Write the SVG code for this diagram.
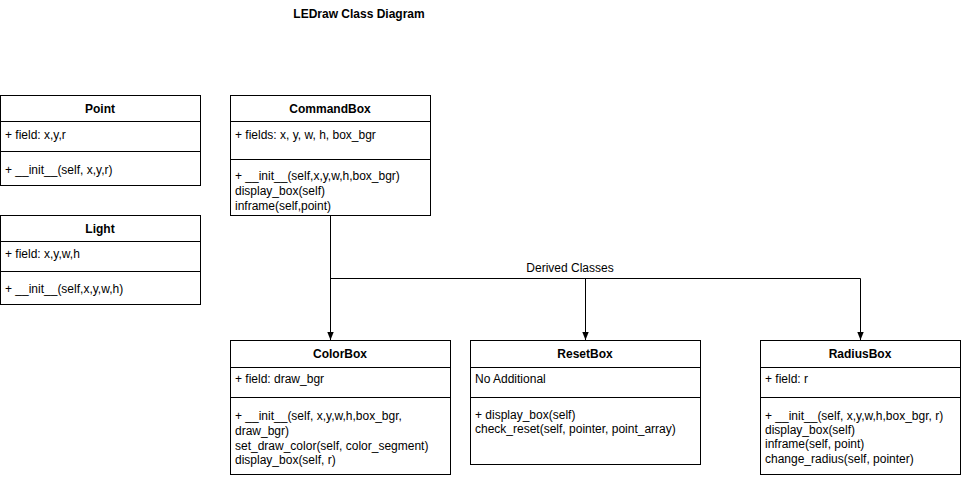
<svg xmlns="http://www.w3.org/2000/svg" width="962" height="479" viewBox="0 0 962 479">
<defs>
<style>
.box{fill:#fff;stroke:#000;stroke-width:1}
.sep{stroke:#000;stroke-width:1;fill:none}
.t{font-family:"Liberation Sans",Arial,Helvetica,sans-serif;font-size:12px;fill:#000}
.h{font-family:"Liberation Sans",Arial,Helvetica,sans-serif;font-size:12px;font-weight:bold;fill:#000;text-anchor:middle}
.c{stroke:#000;stroke-width:1;fill:none}
</style>
<marker id="arr" viewBox="0 0 8 8" refX="8" refY="4" markerWidth="8" markerHeight="8" markerUnits="userSpaceOnUse" orient="auto">
<path d="M0,0.8 L8,4 L0,7.2 Z" fill="#000"/>
</marker>
</defs>
<rect width="962" height="479" fill="#fff"/>
<text x="359" y="18" class="h">LEDraw Class Diagram</text>

<g id="connectors">
<path class="c" d="M330.5,215.5 V340" marker-end="url(#arr)"/>
<path class="c" d="M330.5,278.5 H860.5"/>
<path class="c" d="M585.5,278.5 V340" marker-end="url(#arr)"/>
<path class="c" d="M860.5,278.5 V340" marker-end="url(#arr)"/>
<text x="570" y="272" class="t" text-anchor="middle">Derived Classes</text>
</g>

<g id="Point">
<rect class="box" x="0.5" y="95.5" width="200" height="90"/>
<path class="sep" d="M0.5,121.5 H200.5 M0.5,151.5 H200.5"/>
<text x="100" y="113" class="h">Point</text>
<text x="5" y="139" class="t">+ field: x,y,r</text>
<text x="5" y="174" class="t">+ __init__(self, x,y,r)</text>
</g>

<g id="Light">
<rect class="box" x="0.5" y="215.5" width="200" height="89"/>
<path class="sep" d="M0.5,241.5 H200.5 M0.5,271.5 H200.5"/>
<text x="100" y="233" class="h">Light</text>
<text x="5" y="258" class="t">+ field: x,y,w,h</text>
<text x="5" y="293" class="t">+ __init__(self,x,y,w,h)</text>
</g>

<g id="CommandBox">
<rect class="box" x="230.5" y="95.5" width="200" height="120"/>
<path class="sep" d="M230.5,121.5 H430.5 M230.5,159.5 H430.5"/>
<text x="330" y="113" class="h">CommandBox</text>
<text x="235" y="139" class="t">+ fields: x, y, w, h, box_bgr</text>
<text x="235" y="180" class="t">+ __init__(self,x,y,w,h,box_bgr)</text>
<text x="235" y="195" class="t">display_box(self)</text>
<text x="235" y="210" class="t">inframe(self,point)</text>
</g>

<g id="ColorBox">
<rect class="box" x="230.5" y="340.5" width="220" height="134"/>
<path class="sep" d="M230.5,367.5 H450.5 M230.5,397.5 H450.5"/>
<text x="340" y="358" class="h">ColorBox</text>
<text x="235" y="383" class="t">+ field: draw_bgr</text>
<text x="235" y="420" class="t">+ __init__(self, x,y,w,h,box_bgr,</text>
<text x="235" y="435" class="t">draw_bgr)</text>
<text x="235" y="450" class="t">set_draw_color(self, color_segment)</text>
<text x="235" y="464" class="t">display_box(self, r)</text>
</g>

<g id="ResetBox">
<rect class="box" x="470.5" y="340.5" width="230" height="124"/>
<path class="sep" d="M470.5,367.5 H700.5 M470.5,397.5 H700.5"/>
<text x="585" y="358" class="h">ResetBox</text>
<text x="475" y="383" class="t">No Additional</text>
<text x="475" y="419" class="t">+ display_box(self)</text>
<text x="475" y="433" class="t">check_reset(self, pointer, point_array)</text>
</g>

<g id="RadiusBox">
<rect class="box" x="760.5" y="340.5" width="200" height="134"/>
<path class="sep" d="M760.5,367.5 H960.5 M760.5,397.5 H960.5"/>
<text x="860" y="358" class="h">RadiusBox</text>
<text x="765" y="383" class="t">+ field: r</text>
<text x="765" y="420" class="t">+  __init__(self, x,y,w,h,box_bgr, r)</text>
<text x="765" y="434" class="t">display_box(self)</text>
<text x="765" y="448" class="t">inframe(self, point)</text>
<text x="765" y="463" class="t">change_radius(self, pointer)</text>
</g>
</svg>
